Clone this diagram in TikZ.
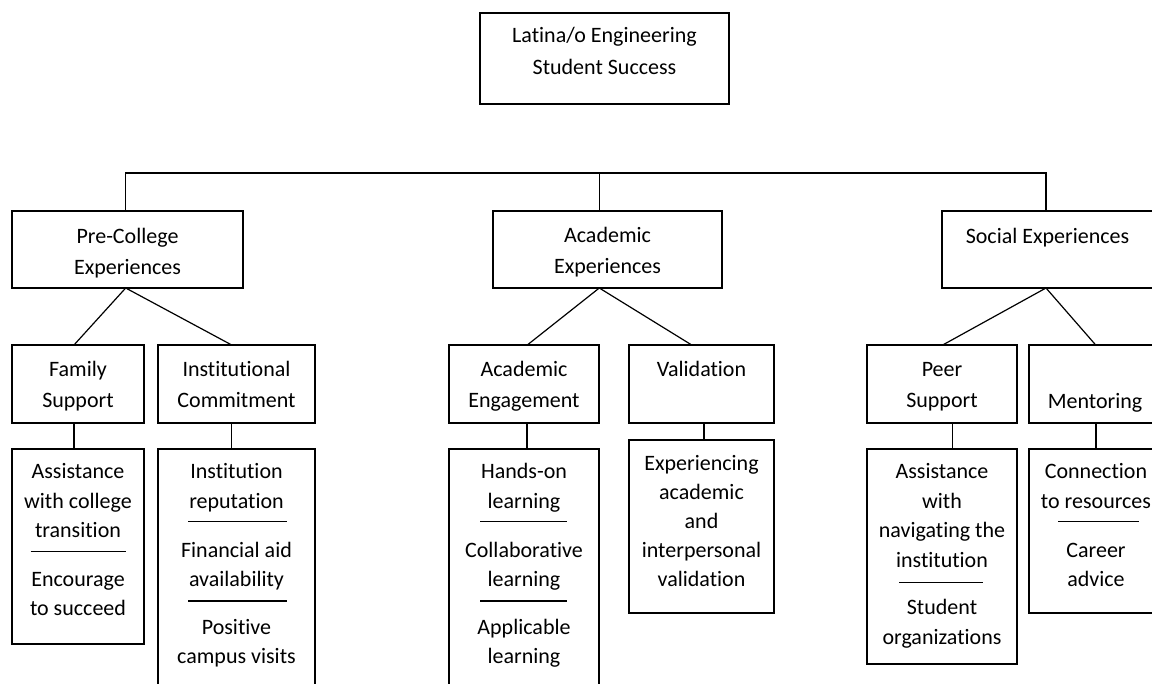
\documentclass[tikz,border=0pt]{standalone}
\usepackage{fontspec}
\setmainfont[Ligatures=NoCommon,RawFeature={-liga;-clig;-dlig}]{Carlito}
\begin{document}
\begin{tikzpicture}[x=1pt,y=-1pt,line width=1.2pt,
  bx/.style={draw,rectangle,inner sep=0pt,outer sep=0pt},
  txt/.style={inner sep=0pt,align=center,anchor=north,font=\fontsize{22}{29.5}\selectfont},
  htxt/.style={inner sep=0pt,align=center,anchor=north,font=\fontsize{22}{31.5}\selectfont},
  sep/.style={line width=1.2pt}]
\useasboundingbox (0,0) rectangle (1152,684);
\clip (0,0) rectangle (1152,684);
% top level
\node[bx,minimum width=249pt,minimum height=91pt] (top) at (604.5,58.5) {};
\node[htxt] (toptxt) at (604.5,42-22.05) {\strut Latina/o Engineering\\Student Success};
% second level
\node[bx,minimum width=231pt,minimum height=77pt] (pre) at (127.5,249.5) {};
\node[bx,minimum width=229pt,minimum height=77pt] (acad) at (607.5,249.5) {};
\node[bx,minimum width=218pt,minimum height=77pt] (soc) at (1051,249.5) {};
\node[htxt] (pretxt) at (127.5,242.5-22.05) {\strut Pre-College\\Experiences};
\node[htxt] (acadtxt) at (607.5,241.5-22.05) {\strut Academic\\Experiences};
\node[htxt] (soctxt) at (1047.5,242.5-22.05) {\strut Social Experiences};
% third level
\node[bx,minimum width=132pt,minimum height=78pt] (fam) at (78,384) {};
\node[bx,minimum width=157pt,minimum height=78pt] (inst) at (236.5,384) {};
\node[bx,minimum width=150pt,minimum height=78pt] (ae) at (524,384) {};
\node[bx,minimum width=145pt,minimum height=78pt] (val) at (701.5,384) {};
\node[bx,minimum width=150pt,minimum height=78pt] (peer) at (942,384) {};
\node[bx,minimum width=132pt,minimum height=78pt] (ment) at (1095,384) {};
\node[htxt] (famtxt) at (78,375.5-22.05) {\strut Family\\Support};
\node[htxt] (insttxt) at (236.5,375.5-22.05) {\strut Institutional\\Commitment};
\node[htxt] (aetxt) at (524,375.5-22.05) {\strut Academic\\Engagement};
\node[htxt] (valtxt) at (701.5,375.5-22.05) {\strut Validation};
\node[htxt] (peertxt) at (942,375.5-22.05) {\strut Peer\\Support};
\node[htxt] (menttxt) at (1095,407.5-22.05) {\strut Mentoring};
% detail boxes
\node[bx,minimum width=132pt,minimum height=195pt] (famd) at (78,546.5) {};
\node[bx,minimum width=157pt,minimum height=271pt] (instd) at (236.5,584.5) {};
\node[bx,minimum width=150pt,minimum height=271pt] (aed) at (524,584.5) {};
\node[bx,minimum width=145pt,minimum height=173pt] (vald) at (701.5,526.5) {};
\node[bx,minimum width=150pt,minimum height=215pt] (peerd) at (942,556.5) {};
\node[bx,minimum width=132pt,minimum height=164pt] (mentd) at (1095,531) {};
% detail texts
\node[txt] (famd1) at (78,478.2-20.65) {\strut Assistance\\with college\\transition};
\node[txt] (famd2) at (78,585.5-20.65) {\strut Encourage\\to succeed};
\node[txt] (instd1) at (236.5,478.2-20.65) {\strut Institution\\reputation};
\node[txt] (instd2) at (236.5,556.5-20.65) {\strut Financial aid\\availability};
\node[txt] (instd3) at (236.5,633.5-20.65) {\strut Positive\\campus visits};
\node[txt] (aed1) at (524,478.2-20.65) {\strut Hands-on\\learning};
\node[txt] (aed2) at (524,556.5-20.65) {\strut Collaborative\\learning};
\node[txt] (aed3) at (524,633.5-20.65) {\strut Applicable\\learning};
\node[txt,font=\fontsize{22}{29}\selectfont] (vald1) at (701.5,470.2-20.3) {\strut Experiencing\\academic\\and\\interpersonal\\validation};
\node[txt] (peerd1) at (942,478.2-20.65) {\strut Assistance\\with\\navigating the\\institution};
\node[txt] (peerd2) at (942,614.2-20.65) {\strut Student\\organizations};
\node[txt] (mentd1) at (1096,478.2-20.65) {\strut Connection\\to resources};
\node[txt] (mentd2) at (1096,556.5-20.65) {\strut Career\\advice};
% separators
\draw[sep] (30.7,551.7) -- (126,551.7);
\draw[sep] (188,521.7) -- (287,521.7);
\draw[sep] (188,601) -- (287,601);
\draw[sep] (480,521.7) -- (567,521.7);
\draw[sep] (480,601) -- (567,601);
\draw[sep] (899,582.7) -- (983,582.7);
\draw[sep] (1058,521.7) -- (1139,521.7);
% connectors
\coordinate (b1) at (125.7,173);
\coordinate (b2) at (599.3,173);
\coordinate (b3) at (1046,173);
\draw (pre.north -| b1) -- (b1) -- (b3) -- (soc.north -| b3);
\draw (b2) -- (acad.north -| b2);
\draw ([xshift=-1.8pt]pre.south) -- ([xshift=-4pt]fam.north);
\draw ([xshift=-1.8pt]pre.south) -- ([xshift=-4.8pt]inst.north);
\draw ([xshift=-8.2pt]acad.south) -- ([xshift=3.3pt]ae.north);
\draw ([xshift=-8.2pt]acad.south) -- ([xshift=-9.8pt]val.north);
\draw ([xshift=-5pt]soc.south) -- ([xshift=0.7pt]peer.north);
\draw ([xshift=-5pt]soc.south) -- ([xshift=0.7pt]ment.north);
\draw ([xshift=-4pt]fam.south) -- ([xshift=-4pt]famd.north);
\draw ([xshift=-4.8pt]inst.south) -- ([xshift=-4.8pt]instd.north);
\draw ([xshift=3pt]ae.south) -- ([xshift=3pt]aed.north);
\draw ([xshift=2.5pt]val.south) -- ([xshift=2.5pt]vald.north);
\draw ([xshift=10.7pt]peer.south) -- ([xshift=10.7pt]peerd.north);
\draw ([xshift=1pt]ment.south) -- ([xshift=1pt]mentd.north);
\end{tikzpicture}
\end{document}
